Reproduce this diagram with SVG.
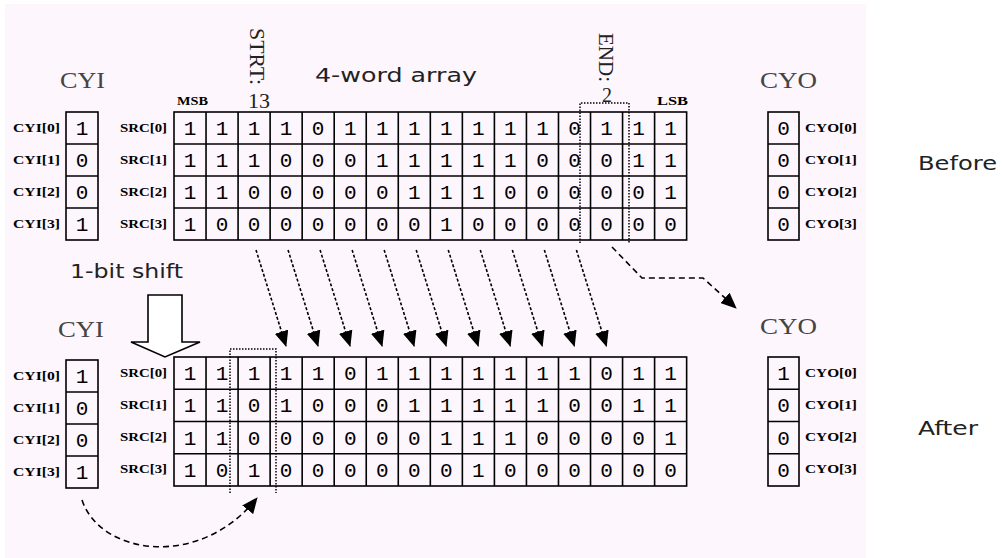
<svg xmlns="http://www.w3.org/2000/svg" width="1002" height="558" viewBox="0 0 1002 558">
<style>
.grid{fill:none;stroke:#000;stroke-width:1.6}
.dig{font-family:"Liberation Mono",monospace;font-size:21px;fill:#000;text-anchor:middle}
.lbl{font-family:"Liberation Serif",serif;font-weight:bold;font-size:12px;fill:#000}
.hdr{font-family:"Liberation Serif",serif;font-size:24px;fill:#444}
.ser{font-family:"Liberation Serif",serif;font-size:20px;fill:#222}
.sans{font-family:"DejaVu Sans","Liberation Sans",sans-serif;font-size:20px;fill:#222}
.dot{fill:none;stroke:#000;stroke-width:1.5;stroke-dasharray:1.5 1.5}
.arr{fill:none;stroke:#000;stroke-width:1.6;stroke-dasharray:3 2}
.dash{fill:none;stroke:#000;stroke-width:1.6;stroke-dasharray:6 4}
</style>
<defs>
<marker id="ah" markerUnits="userSpaceOnUse" markerWidth="16" markerHeight="14" viewBox="0 0 16 14" refX="15" refY="7" orient="auto">
<path d="M0,0 L16,7 L0,14 Z" fill="#000"/>
</marker>
</defs>
<rect x="0" y="0" width="1002" height="558" fill="#fff"/>
<rect x="5" y="4" width="861" height="554" fill="#fdf6fc"/>

<g id="titles">
<text class="hdr" x="60" y="88" textLength="45" lengthAdjust="spacingAndGlyphs">CYI</text>
<text class="hdr" x="760" y="88" textLength="57" lengthAdjust="spacingAndGlyphs">CYO</text>
<text class="sans" x="315" y="82" textLength="162" lengthAdjust="spacingAndGlyphs">4-word array</text>
<text class="lbl" x="177" y="105" textLength="31" lengthAdjust="spacingAndGlyphs">MSB</text>
<text class="lbl" x="657" y="105" textLength="31" lengthAdjust="spacingAndGlyphs">LSB</text>
<text class="ser" transform="translate(250,28) rotate(90)" textLength="57" lengthAdjust="spacingAndGlyphs">STRT:</text>
<text class="ser" x="248" y="108" textLength="22" lengthAdjust="spacingAndGlyphs">13</text>
<text class="ser" transform="translate(599,33) rotate(90)" textLength="49" lengthAdjust="spacingAndGlyphs">END:</text>
<text class="ser" x="607" y="102" text-anchor="middle">2</text>
<text class="sans" x="918" y="170" textLength="79" lengthAdjust="spacingAndGlyphs" fill="#000">Before</text>
<text class="hdr" x="58" y="337" textLength="46" lengthAdjust="spacingAndGlyphs">CYI</text>
<text class="hdr" x="760" y="334" textLength="57" lengthAdjust="spacingAndGlyphs">CYO</text>
<text class="sans" x="70" y="278" textLength="113" lengthAdjust="spacingAndGlyphs">1-bit shift</text>
<text class="sans" x="918" y="435" textLength="60" lengthAdjust="spacingAndGlyphs" fill="#000">After</text>
</g>

<g id="cyi-before">
<rect class="grid" x="66" y="112" width="32" height="128"/>
<path class="grid" d="M66 144H98M66 176H98M66 208H98"/>
<text class="dig" x="82" y="135">1</text>
<text class="dig" x="82" y="167">0</text>
<text class="dig" x="82" y="199">0</text>
<text class="dig" x="82" y="231">1</text>
<text class="lbl" x="13" y="132" textLength="47" lengthAdjust="spacingAndGlyphs">CYI[0]</text>
<text class="lbl" x="13" y="164" textLength="47" lengthAdjust="spacingAndGlyphs">CYI[1]</text>
<text class="lbl" x="13" y="196" textLength="47" lengthAdjust="spacingAndGlyphs">CYI[2]</text>
<text class="lbl" x="13" y="228" textLength="47" lengthAdjust="spacingAndGlyphs">CYI[3]</text>
</g>

<g id="src-before">
<rect class="grid" x="174" y="112" width="512.64" height="128"/>
<path class="grid" d="M174 144H686.64M174 176H686.64M174 208H686.64M206.04 112V240M238.08 112V240M270.12 112V240M302.16 112V240M334.2 112V240M366.24 112V240M398.28 112V240M430.32 112V240M462.36 112V240M494.4 112V240M526.44 112V240M558.48 112V240M590.52 112V240M622.56 112V240M654.6 112V240"/>
<text class="dig" x="190 222.04 254.08 286.12 318.16 350.2 382.24 414.28 446.32 478.36 510.4 542.44 574.48 606.52 638.56 670.6" y="135">1111011111110111</text>
<text class="dig" x="190 222.04 254.08 286.12 318.16 350.2 382.24 414.28 446.32 478.36 510.4 542.44 574.48 606.52 638.56 670.6" y="167">1110001111100011</text>
<text class="dig" x="190 222.04 254.08 286.12 318.16 350.2 382.24 414.28 446.32 478.36 510.4 542.44 574.48 606.52 638.56 670.6" y="199">1100000111000001</text>
<text class="dig" x="190 222.04 254.08 286.12 318.16 350.2 382.24 414.28 446.32 478.36 510.4 542.44 574.48 606.52 638.56 670.6" y="231">1000000010000000</text>
<text class="lbl" x="120" y="132" textLength="47" lengthAdjust="spacingAndGlyphs">SRC[0]</text>
<text class="lbl" x="120" y="164" textLength="47" lengthAdjust="spacingAndGlyphs">SRC[1]</text>
<text class="lbl" x="120" y="196" textLength="47" lengthAdjust="spacingAndGlyphs">SRC[2]</text>
<text class="lbl" x="120" y="228" textLength="47" lengthAdjust="spacingAndGlyphs">SRC[3]</text>
<path class="dot" d="M580 243V103H629V243"/>
</g>

<g id="cyo-before">
<rect class="grid" x="768" y="112" width="31" height="128"/>
<path class="grid" d="M768 144H799M768 176H799M768 208H799"/>
<text class="dig" x="783.5" y="135">0</text>
<text class="dig" x="783.5" y="167">0</text>
<text class="dig" x="783.5" y="199">0</text>
<text class="dig" x="783.5" y="231">0</text>
<text class="lbl" x="805" y="132" textLength="52" lengthAdjust="spacingAndGlyphs">CYO[0]</text>
<text class="lbl" x="805" y="164" textLength="52" lengthAdjust="spacingAndGlyphs">CYO[1]</text>
<text class="lbl" x="805" y="196" textLength="52" lengthAdjust="spacingAndGlyphs">CYO[2]</text>
<text class="lbl" x="805" y="228" textLength="52" lengthAdjust="spacingAndGlyphs">CYO[3]</text>
</g>

<g id="shift-arrow">
<polygon points="148,295 182,295 182,342 200,342 165,357 131,342 148,342" fill="#fff" stroke="#000" stroke-width="1.6"/>
</g>

<g id="cyi-after">
<rect class="grid" x="66" y="360" width="32" height="128"/>
<path class="grid" d="M66 392H98M66 424H98M66 456H98"/>
<text class="dig" x="82" y="383">1</text>
<text class="dig" x="82" y="415">0</text>
<text class="dig" x="82" y="447">0</text>
<text class="dig" x="82" y="479">1</text>
<text class="lbl" x="13" y="380" textLength="47" lengthAdjust="spacingAndGlyphs">CYI[0]</text>
<text class="lbl" x="13" y="412" textLength="47" lengthAdjust="spacingAndGlyphs">CYI[1]</text>
<text class="lbl" x="13" y="444" textLength="47" lengthAdjust="spacingAndGlyphs">CYI[2]</text>
<text class="lbl" x="13" y="476" textLength="47" lengthAdjust="spacingAndGlyphs">CYI[3]</text>
</g>

<g id="src-after">
<rect class="grid" x="174" y="357" width="512.64" height="129"/>
<path class="grid" d="M174 389.25H686.64M174 421.5H686.64M174 453.75H686.64M206.04 357V486M238.08 357V486M270.12 357V486M302.16 357V486M334.2 357V486M366.24 357V486M398.28 357V486M430.32 357V486M462.36 357V486M494.4 357V486M526.44 357V486M558.48 357V486M590.52 357V486M622.56 357V486M654.6 357V486"/>
<text class="dig" x="190 222.04 254.08 286.12 318.16 350.2 382.24 414.28 446.32 478.36 510.4 542.44 574.48 606.52 638.56 670.6" y="380">1111101111111011</text>
<text class="dig" x="190 222.04 254.08 286.12 318.16 350.2 382.24 414.28 446.32 478.36 510.4 542.44 574.48 606.52 638.56 670.6" y="412">1101000111110011</text>
<text class="dig" x="190 222.04 254.08 286.12 318.16 350.2 382.24 414.28 446.32 478.36 510.4 542.44 574.48 606.52 638.56 670.6" y="445">1100000011100001</text>
<text class="dig" x="190 222.04 254.08 286.12 318.16 350.2 382.24 414.28 446.32 478.36 510.4 542.44 574.48 606.52 638.56 670.6" y="477">1010000001000000</text>
<text class="lbl" x="120" y="377" textLength="47" lengthAdjust="spacingAndGlyphs">SRC[0]</text>
<text class="lbl" x="120" y="409" textLength="47" lengthAdjust="spacingAndGlyphs">SRC[1]</text>
<text class="lbl" x="120" y="441" textLength="47" lengthAdjust="spacingAndGlyphs">SRC[2]</text>
<text class="lbl" x="120" y="473" textLength="47" lengthAdjust="spacingAndGlyphs">SRC[3]</text>
<path class="dot" d="M230 493V349H276V493"/>
</g>

<g id="cyo-after">
<rect class="grid" x="768" y="357" width="31" height="129"/>
<path class="grid" d="M768 389.25H799M768 421.5H799M768 453.75H799"/>
<text class="dig" x="783.5" y="380">1</text>
<text class="dig" x="783.5" y="412">0</text>
<text class="dig" x="783.5" y="445">0</text>
<text class="dig" x="783.5" y="477">0</text>
<text class="lbl" x="805" y="377" textLength="52" lengthAdjust="spacingAndGlyphs">CYO[0]</text>
<text class="lbl" x="805" y="409" textLength="52" lengthAdjust="spacingAndGlyphs">CYO[1]</text>
<text class="lbl" x="805" y="441" textLength="52" lengthAdjust="spacingAndGlyphs">CYO[2]</text>
<text class="lbl" x="805" y="473" textLength="52" lengthAdjust="spacingAndGlyphs">CYO[3]</text>
</g>

<g id="connectors">
<path class="arr" marker-end="url(#ah)" d="M256 250L286 346"/>
<path class="arr" marker-end="url(#ah)" d="M288.04 250L318.04 346"/>
<path class="arr" marker-end="url(#ah)" d="M320.08 250L350.08 346"/>
<path class="arr" marker-end="url(#ah)" d="M352.12 250L382.12 346"/>
<path class="arr" marker-end="url(#ah)" d="M384.16 250L414.16 346"/>
<path class="arr" marker-end="url(#ah)" d="M416.2 250L446.2 346"/>
<path class="arr" marker-end="url(#ah)" d="M448.24 250L478.24 346"/>
<path class="arr" marker-end="url(#ah)" d="M480.28 250L510.28 346"/>
<path class="arr" marker-end="url(#ah)" d="M512.32 250L542.32 346"/>
<path class="arr" marker-end="url(#ah)" d="M544.36 250L574.36 346"/>
<path class="arr" marker-end="url(#ah)" d="M576.4 250L606.4 346"/>
<path class="dash" marker-end="url(#ah)" d="M612 247L642 278H703L736 308"/>
<path class="dash" marker-end="url(#ah)" d="M82 500C100 555 200 570 257 498"/>
</g>
</svg>
